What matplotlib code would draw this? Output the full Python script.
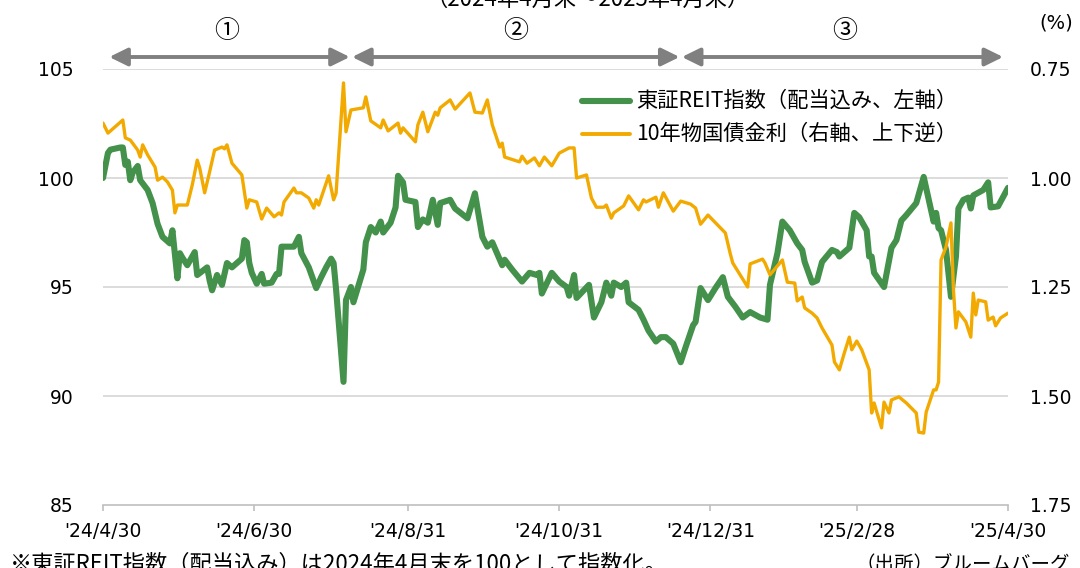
import matplotlib
matplotlib.use("Agg")
import matplotlib.pyplot as plt
from matplotlib.lines import Line2D
import pandas as pd

plt.rcParams['font.family'] = ['Noto Sans CJK JP', 'DejaVu Sans']

# ---------------- data ----------------
reit_dates = [
    "2024-04-30", "2024-05-02", "2024-05-03", "2024-05-07", "2024-05-08", "2024-05-09", "2024-05-10",
    "2024-05-11", "2024-05-12", "2024-05-14", "2024-05-15", "2024-05-18", "2024-05-20", "2024-05-22",
    "2024-05-24", "2024-05-27", "2024-05-28", "2024-05-30", "2024-05-31", "2024-06-01", "2024-06-03",
    "2024-06-06", "2024-06-07", "2024-06-11", "2024-06-12", "2024-06-13", "2024-06-15", "2024-06-17",
    "2024-06-19", "2024-06-21", "2024-06-25", "2024-06-26", "2024-06-27", "2024-06-28", "2024-06-29",
    "2024-07-01", "2024-07-03", "2024-07-04", "2024-07-07", "2024-07-09", "2024-07-10", "2024-07-11",
    "2024-07-16", "2024-07-18", "2024-07-19", "2024-07-22", "2024-07-25", "2024-07-27", "2024-07-29",
    "2024-07-31", "2024-08-01", "2024-08-02", "2024-08-05", "2024-08-06", "2024-08-08", "2024-08-09",
    "2024-08-13", "2024-08-14", "2024-08-16", "2024-08-18", "2024-08-20", "2024-08-21", "2024-08-24",
    "2024-08-26", "2024-08-27", "2024-08-29", "2024-08-30", "2024-09-03", "2024-09-04", "2024-09-06",
    "2024-09-08", "2024-09-10", "2024-09-12", "2024-09-13", "2024-09-17", "2024-09-19", "2024-09-24",
    "2024-09-27", "2024-09-30", "2024-10-02", "2024-10-04", "2024-10-08", "2024-10-09", "2024-10-12",
    "2024-10-16", "2024-10-19", "2024-10-22", "2024-10-23", "2024-10-24", "2024-10-28", "2024-10-31",
    "2024-11-03", "2024-11-04", "2024-11-06", "2024-11-07", "2024-11-12", "2024-11-14", "2024-11-17",
    "2024-11-19", "2024-11-21", "2024-11-22", "2024-11-25", "2024-11-27", "2024-11-28", "2024-12-02",
    "2024-12-04", "2024-12-06", "2024-12-09", "2024-12-11", "2024-12-13", "2024-12-16", "2024-12-19",
    "2024-12-21", "2024-12-24", "2024-12-25", "2024-12-27", "2024-12-30", "2025-01-02", "2025-01-05",
    "2025-01-07", "2025-01-10", "2025-01-13", "2025-01-16", "2025-01-20", "2025-01-23", "2025-01-24",
    "2025-01-27", "2025-01-29", "2025-02-01", "2025-02-04", "2025-02-06", "2025-02-07", "2025-02-10",
    "2025-02-12", "2025-02-14", "2025-02-18", "2025-02-20", "2025-02-21", "2025-02-25", "2025-02-27",
    "2025-03-01", "2025-03-04", "2025-03-05", "2025-03-06", "2025-03-07", "2025-03-11", "2025-03-14",
    "2025-03-16", "2025-03-18", "2025-03-20", "2025-03-24", "2025-03-27", "2025-03-31", "2025-04-01",
    "2025-04-02", "2025-04-03", "2025-04-05", "2025-04-07", "2025-04-09", "2025-04-10", "2025-04-12",
    "2025-04-14", "2025-04-15", "2025-04-16", "2025-04-20", "2025-04-22", "2025-04-23", "2025-04-26",
    "2025-04-30",
]
reit_values = [
    100.0, 101.15, 101.3, 101.4, 101.4, 100.6, 100.75,
    99.9, 100.25, 100.55, 99.9, 99.45, 98.85, 97.9,
    97.3, 97.0, 97.6, 95.4, 96.55, 96.35, 96.0,
    96.6, 95.55, 95.9, 95.3, 94.85, 95.55, 95.1,
    96.1, 95.9, 96.3, 97.15, 97.05, 96.1, 95.65,
    95.15, 95.6, 95.15, 95.2, 95.6, 95.6, 96.85,
    96.85, 97.3, 96.55, 95.9, 94.95, 95.45, 95.9,
    96.3, 96.1, 94.9, 90.65, 94.4, 95.0, 94.3,
    95.8, 97.05, 97.75, 97.5, 98.0, 97.5, 97.95,
    98.65, 100.1, 99.8, 99.0, 98.9, 97.75, 98.1,
    97.95, 99.0, 97.85, 98.85, 99.0, 98.6, 98.15,
    99.3, 97.3, 96.85, 97.05, 96.0, 96.25, 95.8,
    95.25, 95.65, 95.55, 95.65, 94.7, 95.65, 95.25,
    95.0, 94.6, 95.55, 94.5, 95.1, 93.6, 94.3,
    95.2, 94.6, 95.2, 95.0, 95.2, 94.3, 93.95,
    93.5, 93.0, 92.5, 92.7, 92.7, 92.4, 91.55,
    92.25, 93.25, 93.4, 94.95, 94.4, 94.95, 95.45,
    94.55, 94.1, 93.6, 93.85, 93.6, 93.5, 95.1,
    96.55, 98.0, 97.6, 97.0, 96.7, 96.15, 95.2,
    95.3, 96.15, 96.7, 96.6, 96.4, 96.8, 98.4,
    98.2, 97.6, 96.4, 96.4, 95.65, 95.0, 96.8,
    97.15, 98.05, 98.3, 98.85, 100.05, 98.0, 98.4,
    97.7, 97.6, 96.7, 94.55, 96.4, 98.6, 99.0,
    99.1, 98.6, 99.2, 99.45, 99.8, 98.65, 98.7,
    99.55,
]

jgb_dates = [
    "2024-04-30", "2024-05-02", "2024-05-08", "2024-05-09", "2024-05-11", "2024-05-14", "2024-05-15",
    "2024-05-16", "2024-05-18", "2024-05-21", "2024-05-22", "2024-05-24", "2024-05-26", "2024-05-28",
    "2024-05-29", "2024-05-30", "2024-06-03", "2024-06-05", "2024-06-07", "2024-06-08", "2024-06-10",
    "2024-06-12", "2024-06-14", "2024-06-17", "2024-06-18", "2024-06-19", "2024-06-21", "2024-06-25",
    "2024-06-27", "2024-06-28", "2024-07-01", "2024-07-03", "2024-07-05", "2024-07-08", "2024-07-10",
    "2024-07-11", "2024-07-12", "2024-07-16", "2024-07-17", "2024-07-19", "2024-07-22", "2024-07-24",
    "2024-07-25", "2024-07-26", "2024-07-30", "2024-08-01", "2024-08-02", "2024-08-05", "2024-08-06",
    "2024-08-08", "2024-08-13", "2024-08-14", "2024-08-16", "2024-08-20", "2024-08-21", "2024-08-23",
    "2024-08-27", "2024-08-28", "2024-08-29", "2024-09-03", "2024-09-04", "2024-09-06", "2024-09-08",
    "2024-09-11", "2024-09-12", "2024-09-13", "2024-09-17", "2024-09-19", "2024-09-25", "2024-09-27",
    "2024-09-30", "2024-10-02", "2024-10-04", "2024-10-07", "2024-10-08", "2024-10-09", "2024-10-15",
    "2024-10-16", "2024-10-18", "2024-10-21", "2024-10-23", "2024-10-25", "2024-10-28", "2024-10-31",
    "2024-11-04", "2024-11-06", "2024-11-07", "2024-11-11", "2024-11-13", "2024-11-15", "2024-11-18",
    "2024-11-19", "2024-11-21", "2024-11-22", "2024-11-26", "2024-11-28", "2024-12-02", "2024-12-04",
    "2024-12-05", "2024-12-09", "2024-12-10", "2024-12-12", "2024-12-16", "2024-12-19", "2024-12-23",
    "2024-12-25", "2024-12-27", "2024-12-30", "2025-01-06", "2025-01-08", "2025-01-09", "2025-01-15",
    "2025-01-16", "2025-01-21", "2025-01-22", "2025-01-24", "2025-01-29", "2025-01-31", "2025-02-03",
    "2025-02-04", "2025-02-06", "2025-02-07", "2025-02-10", "2025-02-12", "2025-02-14", "2025-02-18",
    "2025-02-19", "2025-02-21", "2025-02-23", "2025-02-25", "2025-02-26", "2025-02-28", "2025-03-02",
    "2025-03-05", "2025-03-06", "2025-03-07", "2025-03-10", "2025-03-11", "2025-03-13", "2025-03-14",
    "2025-03-17", "2025-03-20", "2025-03-24", "2025-03-25", "2025-03-27", "2025-03-28", "2025-03-31",
    "2025-04-01", "2025-04-02", "2025-04-03", "2025-04-05", "2025-04-07", "2025-04-08", "2025-04-09",
    "2025-04-10", "2025-04-13", "2025-04-15", "2025-04-16", "2025-04-17", "2025-04-18", "2025-04-21",
    "2025-04-22", "2025-04-24", "2025-04-25", "2025-04-27", "2025-04-30",
]
jgb_values = [
    0.874, 0.897, 0.867, 0.908, 0.913, 0.936, 0.952,
    0.924, 0.947, 0.975, 1.005, 0.998, 1.009, 1.028,
    1.080, 1.062, 1.062, 1.016, 0.959, 0.977, 1.034,
    0.986, 0.936, 0.929, 0.933, 0.924, 0.966, 0.993,
    1.069, 1.050, 1.055, 1.094, 1.069, 1.089, 1.080,
    1.085, 1.055, 1.023, 1.034, 1.034, 1.046, 1.069,
    1.050, 1.062, 0.995, 1.050, 1.035, 0.782, 0.894,
    0.844, 0.839, 0.814, 0.869, 0.885, 0.867, 0.892,
    0.874, 0.897, 0.885, 0.917, 0.878, 0.849, 0.894,
    0.849, 0.856, 0.839, 0.821, 0.842, 0.805, 0.849,
    0.851, 0.821, 0.878, 0.929, 0.920, 0.952, 0.963,
    0.950, 0.966, 0.954, 0.972, 0.952, 0.972, 0.943,
    0.931, 0.931, 1.000, 0.993, 1.046, 1.067, 1.067,
    1.062, 1.092, 1.080, 1.064, 1.041, 1.073, 1.050,
    1.055, 1.044, 1.067, 1.034, 1.076, 1.053, 1.060,
    1.069, 1.106, 1.085, 1.126, 1.174, 1.195, 1.250,
    1.197, 1.186, 1.195, 1.222, 1.188, 1.239, 1.241,
    1.282, 1.273, 1.298, 1.310, 1.321, 1.344, 1.383,
    1.422, 1.440, 1.401, 1.365, 1.394, 1.374, 1.394,
    1.440, 1.539, 1.516, 1.573, 1.514, 1.539, 1.509,
    1.502, 1.516, 1.539, 1.583, 1.585, 1.537, 1.486,
    1.486, 1.468, 1.188, 1.158, 1.103, 1.257, 1.344,
    1.307, 1.330, 1.365, 1.264, 1.314, 1.280, 1.284,
    1.326, 1.319, 1.339, 1.321, 1.310,
]

xtick_dates = ["2024-04-30", "2024-06-30", "2024-08-31", "2024-10-31",
               "2024-12-31", "2025-02-28", "2025-04-30"]
xtick_labels = ["'24/4/30", "'24/6/30", "'24/8/31", "'24/10/31",
                "'24/12/31", "'25/2/28", "'25/4/30"]
left_ticks = [85, 90, 95, 100, 105]
right_ticks = [0.75, 1.00, 1.25, 1.50, 1.75]

period_bounds = ["2024-04-30", "2024-08-08", "2024-12-19", "2025-04-30"]
period_labels = ["①", "②", "③"]

reit_label = "東証REIT指数（配当込み、左軸）"
jgb_label = "10年物国債金利（右軸、上下逆）"
title_text = "（2024年4月末～2025年4月末）"
note_text = "※東証REIT指数（配当込み）は2024年4月末を100として指数化。"
source_text = "（出所）ブルームバーグ"

GREEN = "#43914a"
ORANGE = "#f2aa00"
GRID = "#d9d9d9"
AXIS = "#bfbfbf"
ARROW = "#808080"

# ---------------- figure ----------------
W, H = 1080, 568
fig = plt.figure(figsize=(W / 100, H / 100), dpi=100)
L, R, T, B = 103, 1008, 69, 505
ax = fig.add_axes([L / W, (H - B) / H, (R - L) / W, (B - T) / H])

rd = pd.to_datetime(reit_dates)
jd = pd.to_datetime(jgb_dates)

ax.plot(rd, reit_values, color=GREEN, lw=4.4, solid_joinstyle='round',
        solid_capstyle='round', zorder=3)
ax.set_ylim(85, 105)
ax.set_xlim(pd.Timestamp(xtick_dates[0]), pd.Timestamp(xtick_dates[-1]))

ax2 = ax.twinx()
ax2.plot(jd, jgb_values, color=ORANGE, lw=2.4, solid_joinstyle='round',
         solid_capstyle='round', zorder=3)
ax2.set_ylim(1.75, 0.75)
ax2.set_xlim(pd.Timestamp(xtick_dates[0]), pd.Timestamp(xtick_dates[-1]))

tick_font = dict(family='DejaVu Sans', size=13.5)

ax.set_yticks(left_ticks)
ax.set_yticklabels([str(v) for v in left_ticks], **tick_font)
ax.tick_params(axis='y', length=0, pad=21.5, colors='#000000')
ax2.set_yticks(right_ticks)
ax2.set_yticklabels([f"{v:.2f}" for v in right_ticks], **tick_font)
ax2.tick_params(axis='y', length=0, pad=15.5, colors='#000000')

ax.set_xticks(pd.to_datetime(xtick_dates))
ax.set_xticklabels(xtick_labels, **tick_font)
ax.tick_params(axis='x', length=4.5, width=1.2, color=AXIS, pad=8, labelcolor='#000000')

for a in (ax, ax2):
    for s in ('top', 'left', 'right'):
        a.spines[s].set_visible(False)
ax2.spines['bottom'].set_visible(False)
ax.spines['bottom'].set_color(AXIS)
ax.spines['bottom'].set_linewidth(1.2)

for v in left_ticks[1:]:
    ax.axhline(v, color=GRID, lw=1.3, zorder=1)

# legend (manual)
def fx(px):
    return (px - L) / (R - L)

def fy(py):
    return (B - py) / (B - T)

ax2.add_line(Line2D([fx(582), fx(630)], [fy(101), fy(101)], transform=ax2.transAxes,
                    color=GREEN, lw=4.4, solid_capstyle='round', clip_on=False))
ax2.add_line(Line2D([fx(582), fx(630)], [fy(134), fy(134)], transform=ax2.transAxes,
                    color=ORANGE, lw=2.8, solid_capstyle='round', clip_on=False))
ax2.text(fx(636), fy(101), reit_label, transform=ax2.transAxes, fontsize=15.3,
         va='center', ha='left')
ax2.text(fx(636), fy(134), jgb_label, transform=ax2.transAxes, fontsize=15.3,
         va='center', ha='left')

# period arrows
pb = pd.to_datetime(period_bounds)
ya = fy(57)
for i in range(3):
    sA = 4.5 if i == 0 else 0.8
    sB = 3.5 if i == 2 else 0.8
    ax.annotate('', xy=(pb[i + 1], ya), xytext=(pb[i], ya),
                xycoords=('data', 'axes fraction'),
                arrowprops=dict(arrowstyle='<|-|>,head_length=0.55,head_width=0.27',
                                color=ARROW, lw=2.8, mutation_scale=20,
                                shrinkA=sA, shrinkB=sB), annotation_clip=False)
    mid = pb[i] + (pb[i + 1] - pb[i]) / 2
    ax.text(mid, fy(31), period_labels[i], transform=ax.get_xaxis_transform(),
            fontsize=18, ha='center', va='center')

# other texts
fig.text(1056 / W, (H - 23) / H, "(%)", fontsize=14, ha='center', va='center',
         family=['DejaVu Sans'])
fig.text(588 / W, (H - 6) / H, title_text, fontsize=16, ha='center', va='baseline')
fig.text(10 / W, (H - 564) / H, note_text, fontsize=16, ha='left', va='center')
fig.text(1070 / W, (H - 564) / H, source_text, fontsize=14, ha='right', va='center')

fig.savefig("out.png", dpi=100)
